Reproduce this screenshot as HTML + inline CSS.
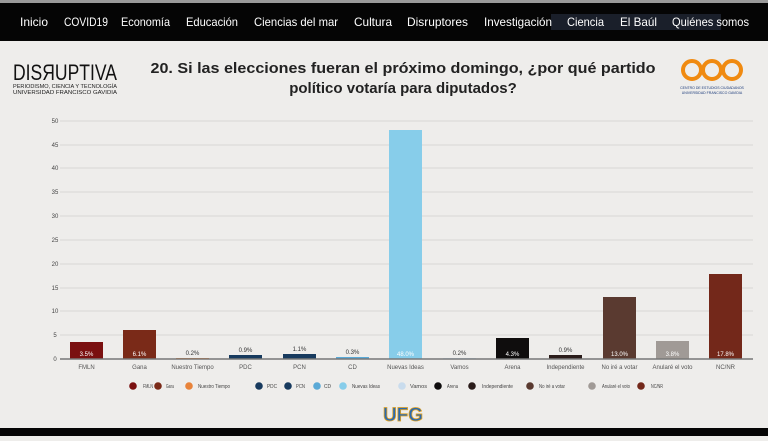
<!DOCTYPE html>
<html><head><meta charset="utf-8"><style>
body{margin:0;width:768px;height:436px;overflow:hidden;background:#eeedeb;font-family:"Liberation Sans",sans-serif}
</style></head><body>
<svg width="768" height="436" xmlns="http://www.w3.org/2000/svg" font-family="Liberation Sans, sans-serif">
<rect width="768" height="436" fill="#eeedeb"/>
<rect width="768" height="3" fill="#9a9a9a"/>
<rect y="3" width="768" height="38" fill="#050505"/>
<rect x="551" y="14" width="170" height="16" fill="#1a1f2a"/>
<g fill="#fff" font-size="12">
<text x="20" y="26" textLength="28" lengthAdjust="spacingAndGlyphs">Inicio</text>
<text x="64" y="26" textLength="44" lengthAdjust="spacingAndGlyphs">COVID19</text>
<text x="121" y="26" textLength="49" lengthAdjust="spacingAndGlyphs">Economía</text>
<text x="186" y="26" textLength="52" lengthAdjust="spacingAndGlyphs">Educación</text>
<text x="254" y="26" textLength="84" lengthAdjust="spacingAndGlyphs">Ciencias del mar</text>
<text x="354" y="26" textLength="38" lengthAdjust="spacingAndGlyphs">Cultura</text>
<text x="407" y="26" textLength="61" lengthAdjust="spacingAndGlyphs">Disruptores</text>
<text x="484" y="26" textLength="68" lengthAdjust="spacingAndGlyphs">Investigación</text>
<text x="567" y="26" textLength="37" lengthAdjust="spacingAndGlyphs">Ciencia</text>
<text x="620" y="26" textLength="37" lengthAdjust="spacingAndGlyphs">El Baúl</text>
<text x="672" y="26" textLength="77" lengthAdjust="spacingAndGlyphs">Quiénes somos</text>
</g>
<text x="13" y="80" font-size="22" fill="#111" textLength="104" lengthAdjust="spacingAndGlyphs">DISЯUPTIVA</text>
<text x="13" y="88" font-size="5.5" fill="#222" textLength="104" lengthAdjust="spacingAndGlyphs">PERIODISMO, CIENCIA Y TECNOLOGÍA</text>
<text x="13" y="94" font-size="5.5" fill="#222" textLength="104" lengthAdjust="spacingAndGlyphs">UNIVERSIDAD FRANCISCO GAVIDIA</text>
<text x="403" y="73" font-size="15" font-weight="bold" fill="#222" text-anchor="middle" textLength="505" lengthAdjust="spacingAndGlyphs">20. Si las elecciones fueran el próximo domingo, ¿por qué partido</text>
<text x="403" y="93" font-size="15" font-weight="bold" fill="#222" text-anchor="middle">político votaría para diputados?</text>
<g fill="none" stroke="#f08a10" stroke-width="4"><circle cx="692" cy="70" r="9"/><circle cx="712" cy="70" r="9"/><circle cx="732" cy="70" r="9"/></g>
<text x="712" y="89" font-size="3.5" fill="#1a3a7a" text-anchor="middle">CENTRO DE ESTUDIOS CIUDADANOS</text>
<text x="712" y="94" font-size="3.5" fill="#1a3a7a" text-anchor="middle">UNIVERSIDAD FRANCISCO GAVIDIA</text>
<g stroke="#d8d8d6" stroke-width="1">
<line x1="60" x2="753" y1="121" y2="121"/><line x1="60" x2="753" y1="145" y2="145"/><line x1="60" x2="753" y1="168" y2="168"/><line x1="60" x2="753" y1="192" y2="192"/><line x1="60" x2="753" y1="216" y2="216"/><line x1="60" x2="753" y1="240" y2="240"/><line x1="60" x2="753" y1="264" y2="264"/><line x1="60" x2="753" y1="288" y2="288"/><line x1="60" x2="753" y1="311" y2="311"/><line x1="60" x2="753" y1="335" y2="335"/>
</g>
<g font-size="6" fill="#444" text-anchor="middle">
<text x="55" y="123">50</text><text x="55" y="147">45</text><text x="55" y="170">40</text><text x="55" y="194">35</text><text x="55" y="218">30</text><text x="55" y="242">25</text><text x="55" y="266">20</text><text x="55" y="290">15</text><text x="55" y="313">10</text><text x="55" y="337">5</text><text x="55" y="361">0</text>
</g>
<g>
<rect x="70" y="342" width="33" height="17" fill="#7a1010"/>
<rect x="123" y="330" width="33" height="29" fill="#7a2a18"/>
<rect x="176" y="358" width="33" height="1" fill="#e8833a"/>
<rect x="229" y="355" width="33" height="4" fill="#173a5e"/>
<rect x="283" y="354" width="33" height="5" fill="#173a5e"/>
<rect x="336" y="357" width="33" height="2" fill="#5aa9d6"/>
<rect x="389" y="130" width="33" height="229" fill="#87cdea"/>
<rect x="443" y="358" width="33" height="1" fill="#c9dced"/>
<rect x="496" y="338" width="33" height="21" fill="#0f0d0d"/>
<rect x="549" y="355" width="33" height="4" fill="#2a1c1a"/>
<rect x="603" y="297" width="33" height="62" fill="#5a3a30"/>
<rect x="656" y="341" width="33" height="18" fill="#a09a96"/>
<rect x="709" y="274" width="33" height="85" fill="#73281a"/>
</g>
<line x1="60" x2="753" y1="359" y2="359" stroke="#777" stroke-width="1.5"/>
<g font-size="6" text-anchor="middle" fill="#fff">
<text x="86.5" y="356">3.5%</text><text x="139.5" y="356">6.1%</text><text x="512.5" y="356">4.3%</text><text x="619.5" y="356">13.0%</text><text x="672.5" y="356">3.8%</text><text x="725.5" y="356">17.8%</text><text x="405.5" y="356">48.0%</text>
</g>
<g font-size="6" text-anchor="middle" fill="#333">
<text x="192.5" y="355">0.2%</text><text x="245.5" y="352">0.9%</text><text x="299.5" y="351">1.1%</text><text x="352.5" y="354">0.3%</text><text x="459.5" y="355">0.2%</text><text x="565.5" y="352">0.9%</text>
</g>
<g font-size="6" text-anchor="middle" fill="#555">
<text x="86.5" y="369">FMLN</text><text x="139.5" y="369">Gana</text><text x="192.5" y="369">Nuestro Tiempo</text><text x="245.5" y="369">PDC</text><text x="299.5" y="369">PCN</text><text x="352.5" y="369">CD</text><text x="405.5" y="369">Nuevas Ideas</text><text x="459.5" y="369">Vamos</text><text x="512.5" y="369">Arena</text><text x="565.5" y="369">Independiente</text><text x="619.5" y="369">No iré a votar</text><text x="672.5" y="369">Anularé el voto</text><text x="725.5" y="369">NC/NR</text>
</g>
<g font-size="5" fill="#444">
<circle cx="133" cy="386" r="3.8" fill="#7a1010"/><text x="143" y="388" textLength="10" lengthAdjust="spacingAndGlyphs">FMLN</text>
<circle cx="158" cy="386" r="3.8" fill="#7a2a18"/><text x="166" y="388" textLength="8" lengthAdjust="spacingAndGlyphs">Gana</text>
<circle cx="189" cy="386" r="3.8" fill="#e8833a"/><text x="198" y="388" textLength="32" lengthAdjust="spacingAndGlyphs">Nuestro Tiempo</text>
<circle cx="259" cy="386" r="3.8" fill="#173a5e"/><text x="267" y="388" textLength="10" lengthAdjust="spacingAndGlyphs">PDC</text>
<circle cx="288" cy="386" r="3.8" fill="#173a5e"/><text x="296" y="388" textLength="9" lengthAdjust="spacingAndGlyphs">PCN</text>
<circle cx="317" cy="386" r="3.8" fill="#5aa9d6"/><text x="324" y="388" textLength="7" lengthAdjust="spacingAndGlyphs">CD</text>
<circle cx="343" cy="386" r="3.8" fill="#87cdea"/><text x="352" y="388" textLength="28" lengthAdjust="spacingAndGlyphs">Nuevas Ideas</text>
<circle cx="402" cy="386" r="3.8" fill="#c9dced"/><text x="410" y="388" textLength="17" lengthAdjust="spacingAndGlyphs">Vamos</text>
<circle cx="438" cy="386" r="3.8" fill="#0f0d0d"/><text x="447" y="388" textLength="11" lengthAdjust="spacingAndGlyphs">Arena</text>
<circle cx="472" cy="386" r="3.8" fill="#2a1c1a"/><text x="482" y="388" textLength="31" lengthAdjust="spacingAndGlyphs">Independiente</text>
<circle cx="530" cy="386" r="3.8" fill="#5a3a30"/><text x="539" y="388" textLength="26" lengthAdjust="spacingAndGlyphs">No iré a votar</text>
<circle cx="592" cy="386" r="3.8" fill="#a09a96"/><text x="602" y="388" textLength="28" lengthAdjust="spacingAndGlyphs">Anularé el voto</text>
<circle cx="641" cy="386" r="3.8" fill="#73281a"/><text x="651" y="388" textLength="12" lengthAdjust="spacingAndGlyphs">NC/NR</text>
</g>
<text x="403" y="421" font-size="19" font-weight="bold" fill="#2a6ab0" stroke="#e0a020" stroke-width="0.8" text-anchor="middle">UFG</text>
<rect y="428" width="768" height="8" fill="#050505"/>
</svg>
</body></html>
